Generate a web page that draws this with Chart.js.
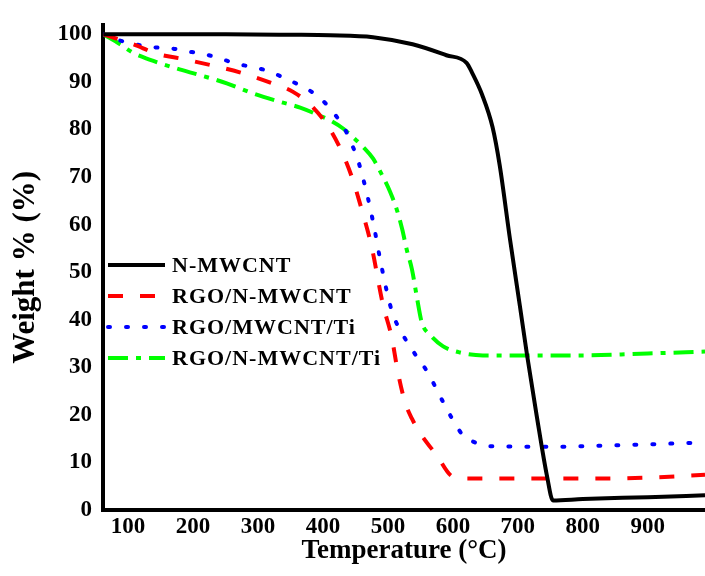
<!DOCTYPE html>
<html>
<head>
<meta charset="utf-8">
<title>TGA</title>
<script src="https://cdn.jsdelivr.net/npm/chart.js@4.4.1/dist/chart.umd.min.js"></script>
<style>
    html, body { margin: 0; padding: 0; background: #fff; }
    #tga { display: block; }
</style>
</head>
<body>
<canvas id="tga" width="705" height="576"></canvas>
<script>
// TGA curves (temperature in °C, weight in %)
const seriesNames = ['N-MWCNT', 'RGO/N-MWCNT', 'RGO/MWCNT/Ti', 'RGO/N-MWCNT/Ti'];

const nmwcntT = [62, 150, 250, 350, 411, 477, 538, 590, 621, 630, 645, 661, 672, 688, 703, 714, 729, 745, 754, 800, 900, 988];
const nmwcntW = [100, 100, 100, 99.9, 99.8, 99.4, 97.9, 95.6, 94, 91.8, 87.3, 80.5, 72.5, 56.8, 43, 32.7, 19.8, 7, 2, 2.3, 2.7, 3.1];

const rgoNT = [62, 108, 145, 185, 231, 272, 318, 354, 385, 411, 429, 445, 460, 475, 492, 506, 515, 526, 537, 549, 575, 600, 626, 700, 800, 900, 988];
const rgoNW = [100, 97.9, 95.9, 94.8, 93.4, 92, 89.9, 87.9, 84.6, 80, 75.3, 69.8, 63, 55.3, 43.4, 36.2, 29.2, 22.8, 19.2, 16.3, 11.5, 7, 6.6, 6.6, 6.6, 6.8, 7.4];

const rgoTiT = [62, 85, 111, 137, 169, 188, 214, 238, 262, 288, 313, 349, 370, 388, 406, 421, 434, 445, 454, 468, 478, 489, 503, 511, 523, 535, 548, 561, 578, 590, 601, 615, 634, 657, 750, 850, 988];
const rgoTiW = [100, 98.8, 97.9, 97.3, 97.0, 96.5, 95.9, 95.1, 94, 93.2, 92.4, 90.3, 88.9, 87.4, 85.2, 82.7, 80, 76.7, 73.5, 66.3, 60, 52, 43.3, 40, 36.8, 34.2, 31.5, 29, 24.5, 21.4, 18.7, 15.8, 14.2, 13.4, 13.3, 13.6, 14.2];

const rgoNTiT = [62, 88, 108, 139, 175, 211, 252, 292, 334, 365, 395, 411, 431, 446, 462, 477, 491, 503, 514, 522, 529, 537, 545, 552, 565, 585, 611, 646, 800, 900, 988];
const rgoNTiW = [100, 97.9, 96.1, 94.4, 92.8, 91.4, 89.7, 87.6, 85.8, 84.6, 82.9, 81.9, 80.2, 78.4, 76.3, 73.9, 70.4, 67, 63, 59, 54.7, 50.6, 44.4, 39.5, 36.8, 34.4, 33.1, 32.5, 32.5, 32.9, 33.3];

const xTicks = [100, 200, 300, 400, 500, 600, 700, 800, 900];
const yTicks = [0, 10, 20, 30, 40, 50, 60, 70, 80, 90, 100];

function pts(xs, ys) {
    return xs.map(function (x, i) { return { x: x, y: ys[i] }; });
}

const FONT = '"Liberation Serif", "Times New Roman", serif';

// legend drawn inside the plot area, like the original figure
const insideLegend = {
    id: 'insideLegend',
    afterDatasetsDraw: function (chart, args, opts) {
        const ctx = chart.ctx;
        ctx.save();
        ctx.font = 'bold ' + opts.size + 'px ' + FONT;
        ctx.textBaseline = 'middle';
        ctx.textAlign = 'left';
        ctx.fillStyle = '#000';
        chart.data.datasets.forEach(function (ds, i) {
            const y = opts.top + i * opts.gap;
            ctx.save();
            ctx.strokeStyle = ds.borderColor;
            ctx.lineWidth = ds.borderWidth;
            ctx.setLineDash(ds.borderDash || []);
            ctx.lineCap = ds.borderCapStyle || 'butt';
            ctx.beginPath();
            ctx.moveTo(opts.x0, y);
            ctx.lineTo(opts.x1, y);
            ctx.stroke();
            ctx.restore();
            ctx.letterSpacing = '1px';
            ctx.fillText(ds.label, opts.textX, y + 1);
        });
        ctx.restore();
    }
};

new Chart(document.getElementById('tga'), {
    type: 'line',
    data: {
        datasets: [{
            label: seriesNames[0],
            data: pts(nmwcntT, nmwcntW),
            borderColor: '#000000',
            borderWidth: 4
        }, {
            label: seriesNames[1],
            data: pts(rgoNT, rgoNW),
            borderColor: '#ff0000',
            borderWidth: 4,
            borderDash: [15, 17]
        }, {
            label: seriesNames[2],
            data: pts(rgoTiT, rgoTiW),
            borderColor: '#0000ff',
            borderWidth: 4,
            borderDash: [2, 16],
            borderCapStyle: 'round'
        }, {
            label: seriesNames[3],
            data: pts(rgoNTiT, rgoNTiW),
            borderColor: '#00ff00',
            borderWidth: 4,
            borderDash: [20, 8, 5, 8]
        }]
    },
    options: {
        responsive: false,
        animation: false,
        devicePixelRatio: 1,
        cubicInterpolationMode: 'monotone',
        elements: { point: { radius: 0 } },
        layout: { padding: { top: 13, right: 0, left: 0, bottom: 0 } },
        plugins: {
            legend: { display: false },
            tooltip: { enabled: false },
            insideLegend: { x0: 108, x1: 165, textX: 172, top: 265, gap: 31, size: 22 }
        },
        scales: {
            x: {
                type: 'linear',
                min: 61.5,
                max: 988,
                grid: { display: false, drawTicks: false },
                border: { display: true, width: 4, color: '#000' },
                afterBuildTicks: function (scale) {
                    scale.ticks = xTicks.map(function (v) { return { value: v }; });
                },
                afterFit: function (scale) { scale.height = 66; },
                ticks: {
                    color: '#000',
                    padding: 3,
                    maxRotation: 0,
                    autoSkip: false,
                    font: { family: FONT, size: 23, weight: 'bold' }
                },
                title: {
                    display: true,
                    text: 'Temperature (°C)',
                    color: '#000',
                    padding: { top: 0, bottom: 9 },
                    font: { family: FONT, size: 27, weight: 'bold' }
                }
            },
            y: {
                min: 0,
                max: 102,
                grid: { display: false, drawTicks: false },
                border: { display: true, width: 4, color: '#000' },
                afterBuildTicks: function (scale) {
                    scale.ticks = yTicks.map(function (v) { return { value: v }; });
                },
                afterFit: function (scale) { scale.width = 103; },
                ticks: {
                    color: '#000',
                    padding: 11,
                    autoSkip: false,
                    font: { family: FONT, size: 23, weight: 'bold' }
                },
                title: {
                    display: true,
                    text: 'Weight % (%)',
                    color: '#000',
                    padding: { top: 7, bottom: 0 },
                    font: { family: FONT, size: 31, weight: 'bold' }
                }
            }
        }
    },
    plugins: [insideLegend]
});
</script>
</body>
</html>
